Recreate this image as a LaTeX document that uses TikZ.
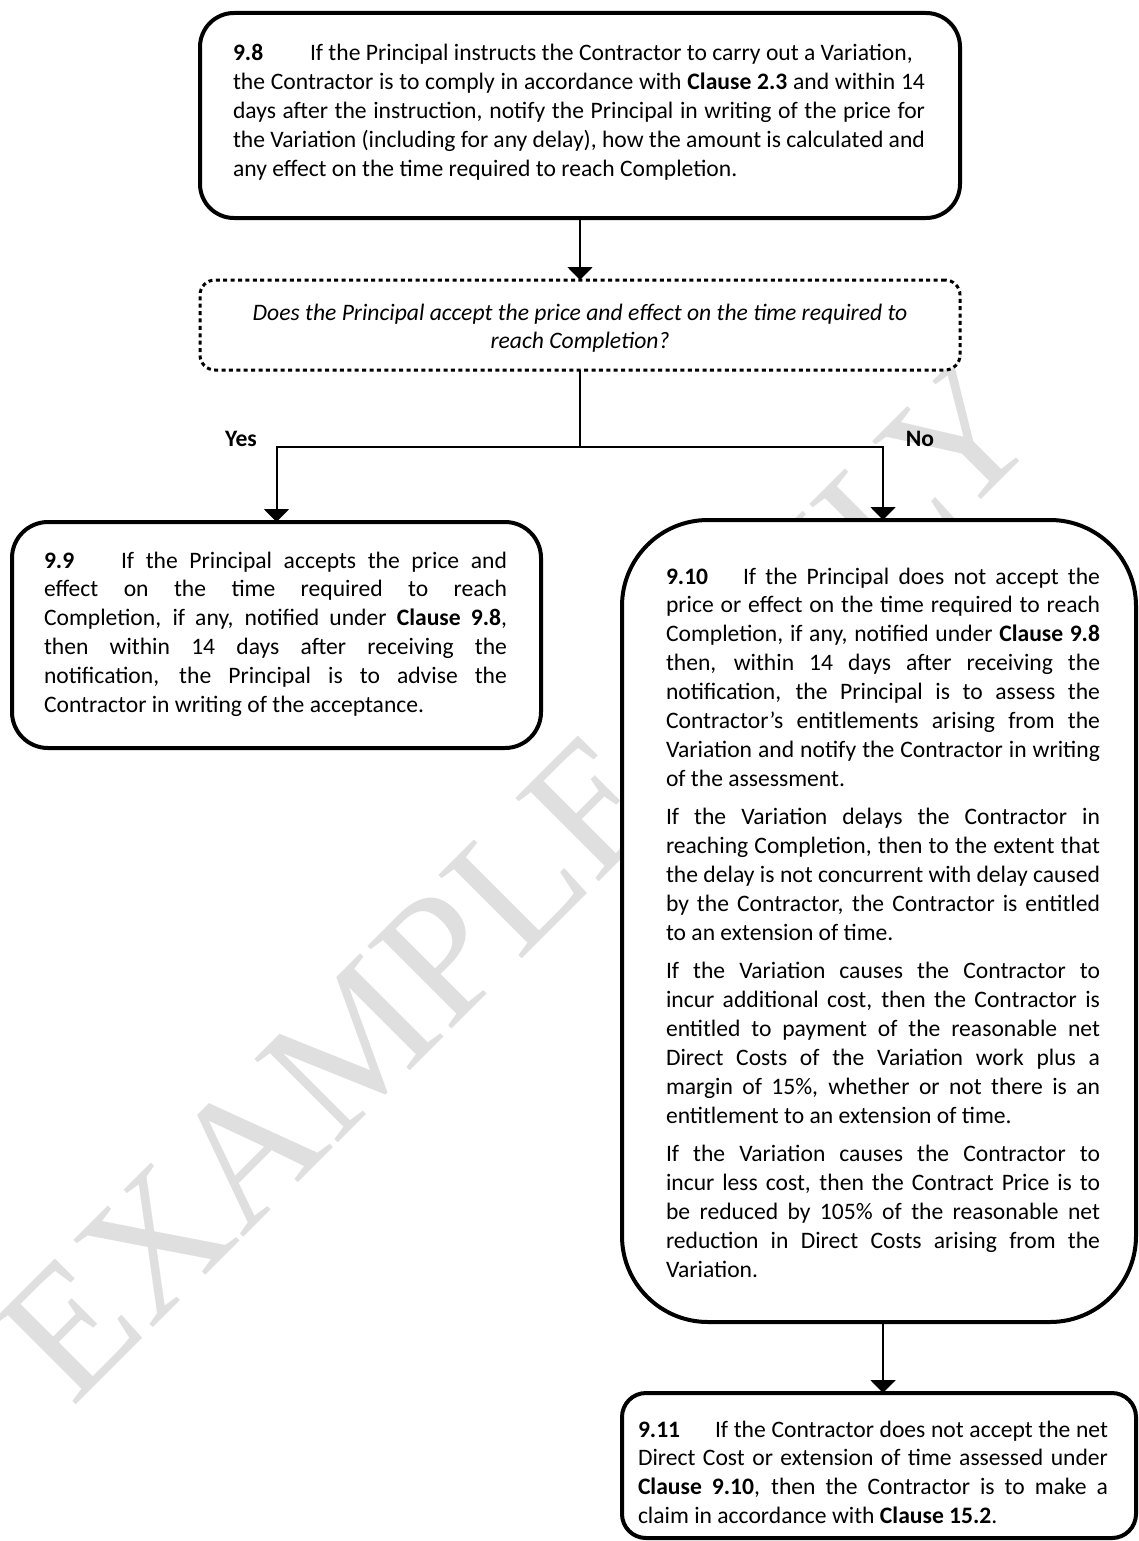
\documentclass[tikz,border=0pt]{standalone}
\usepackage{fontspec}
\setmainfont{Carlito}
\newfontfamily\wmfont{Liberation Serif}
\usetikzlibrary{arrows.meta}
\definecolor{wmgray}{RGB}{223,223,223}
\newcommand{\nsp}{\spaceskip=0pt\relax\xspaceskip=0pt\relax}
\newcommand{\fsp}{\spaceskip=0.2261em\relax\xspaceskip=0.2261em\relax}
\newcommand{\jline}[2]{\makebox[#1][s]{\nsp#2}\\}
\newcommand{\clnum}[1]{\makebox[38.5pt][l]{\textbf{#1}}}
\begin{document}
\begin{tikzpicture}[x=0.5pt,y=0.5pt,
  every node/.style={inner sep=0pt, outer sep=0pt},
  bodyfont/.style={font=\fontsize{11.8pt}{14.45pt}\selectfont},
  txt/.style={bodyfont, align=left, anchor=base west},
  rbox/.style={draw, line width=2pt, fill=white},
  dbox/.style={draw, line width=1.5pt, dash pattern=on 2pt off 1.7pt, fill=white},
  arr/.style={line width=1pt, -{Triangle[width=12.5pt,length=6.5pt]}},
  lbl/.style={font=\fontsize{11.8pt}{14.45pt}\selectfont\bfseries, anchor=base}]
\useasboundingbox (0,0) rectangle (1139,-1541);

% watermark
\node[rotate=45, text=wmgray, font=\wmfont\fontsize{90pt}{90pt}\selectfont] (wmk) at (518,-880) {EXAMPLE ONLY};

% boxes
\node[rbox, minimum width=380pt, minimum height=102.5pt, rounded corners=17pt] (n98) at (580,-115.5) {};
\node[dbox, minimum width=380pt, minimum height=45pt, rounded corners=7.5pt] (dec) at (580,-325) {};
\node[rbox, minimum width=264.5pt, minimum height=113pt, rounded corners=18pt] (n99) at (276.5,-635) {};
\node[rbox, minimum width=257pt, minimum height=401pt, rounded corners=43pt] (n910) at (879,-921) {};
\node[rbox, minimum width=257pt, minimum height=72.5pt, rounded corners=12pt] (n911) at (879,-1465.5) {};

% texts
\node[txt, text width=346pt] (t98) at (233,-61) {\nsp\clnum{9.8}If the Principal instructs the Contractor to carry out a Variation,\\
\jline{346pt}{the Contractor is to comply in accordance with \textbf{Clause 2.3} and within 14}
\jline{346pt}{days after the instruction, notify the Principal in writing of the price for}
\jline{346pt}{the Variation (including for any delay), how the amount is calculated and}
any effect on the time required to reach Completion.};

\node[font={\fontsize{11.8pt}{14.45pt}\selectfont\itshape}, text width=380pt, align=center, anchor=base] (tdec) at (580,-320) {\fsp Does the Principal accept the price and effect on the time required to\\reach Completion?};

\node[txt, text width=231.5pt] (t99) at (44,-568) {\nsp\jline{231.5pt}{\clnum{9.9}If the Principal accepts the price and}
\jline{231.5pt}{effect on the time required to reach}
\jline{231.5pt}{Completion, if any, notified under \textbf{Clause 9.8},}
\jline{231.5pt}{then within 14 days after receiving the}
\jline{231.5pt}{notification, the Principal is to advise the}
Contractor in writing of the acceptance.};

\node[txt, text width=217pt] (t910) at (666,-584) {\nsp\jline{217pt}{\clnum{9.10}If the Principal does not accept the}
\jline{217pt}{price or effect on the time required to reach}
\jline{217pt}{Completion, if any, notified under \textbf{Clause 9.8}}
\jline{217pt}{then, within 14 days after receiving the}
\jline{217pt}{notification, the Principal is to assess the}
\jline{217pt}{Contractor’s entitlements arising from the}
\jline{217pt}{Variation and notify the Contractor in writing}
of the assessment.\\[4.75pt]
\jline{217pt}{If the Variation delays the Contractor in}
\jline{217pt}{reaching Completion, then to the extent that}
\jline{217pt}{the delay is not concurrent with delay caused}
\jline{217pt}{by the Contractor, the Contractor is entitled}
to an extension of time.\\[4.75pt]
\jline{217pt}{If the Variation causes the Contractor to}
\jline{217pt}{incur additional cost, then the Contractor is}
\jline{217pt}{entitled to payment of the reasonable net}
\jline{217pt}{Direct Costs of the Variation work plus a}
\jline{217pt}{margin of 15\%, whether or not there is an}
entitlement to an extension of time.\\[4.75pt]
\jline{217pt}{If the Variation causes the Contractor to}
\jline{217pt}{incur less cost, then the Contract Price is to}
\jline{217pt}{be reduced by 105\% of the reasonable net}
\jline{217pt}{reduction in Direct Costs arising from the}
Variation.};

\node[txt, text width=235pt] (t911) at (638,-1437) {\nsp\jline{235pt}{\clnum{9.11}If the Contractor does not accept the net}
\jline{235pt}{Direct Cost or extension of time assessed under}
\jline{235pt}{\textbf{Clause 9.10}, then the Contractor is to make a}
claim in accordance with \textbf{Clause 15.2}.};

% labels
\node[lbl] (yes) at (241,-446) {Yes};
\node[lbl] (no) at (920,-446) {No};

% connectors
\coordinate (split) at (580,-447);
\coordinate (noc) at (883,-447);
\draw[arr] (n98.south) -- (dec.north);
\draw[arr] (dec.south) -- (split) -| (n99.north);
\draw[arr] (split) -| (noc |- n910.north);
\draw[arr] (n910.south -| noc) -- (noc |- n911.north);
\end{tikzpicture}
\end{document}
